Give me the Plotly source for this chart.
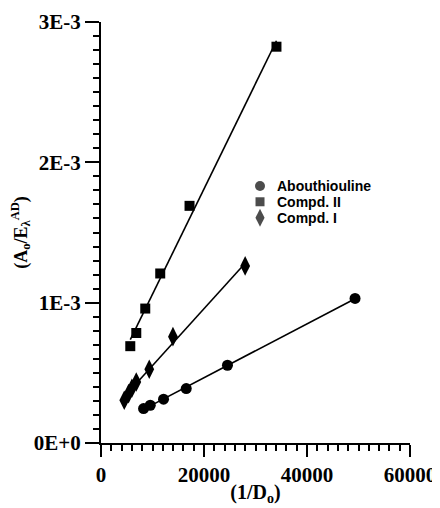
import numpy as np
import plotly.graph_objects as go

# Data
abou_x = [8265, 9565, 12145, 16550, 24560, 49330]
abou_y = [0.245e-3, 0.269e-3, 0.312e-3, 0.388e-3, 0.554e-3, 1.03e-3]

c2_x = [5685, 6850, 8595, 11500, 17190, 34070]
c2_y = [0.69e-3, 0.784e-3, 0.958e-3, 1.208e-3, 1.69e-3, 2.824e-3]

c1_x = [4520, 5355, 6000, 6850, 9370, 13970, 27990]
c1_y = [0.305e-3, 0.352e-3, 0.39e-3, 0.435e-3, 0.526e-3, 0.758e-3, 1.262e-3]

names = ["Abouthiouline", "Compd. II", "Compd. I"]
symbols = ["circle", "square", "diamond-tall"]
sizes = [11, 10, 14]
legend_sizes = [10, 9, 13]
series_x = [abou_x, c2_x, c1_x]
series_y = [abou_y, c2_y, c1_y]

x_ticks = [0, 20000, 40000, 60000]
x_ticktext = ["0", "20000", "40000", "60000"]
y_ticks = [0, 1e-3, 2e-3, 3e-3]
y_ticktext = ["0E+0", "1E-3", "2E-3", "3E-3"]

# legend layout (paper fractions of the plot area)
leg_marker_x = 0.5146
leg_text_x = 0.563
leg_rows_y = [0.6105, 0.573, 0.535]

fig = go.Figure()
for xs, ys in zip(series_x, series_y):
    xa = np.array(xs, dtype=float)
    ya = np.array(ys, dtype=float)
    m, b = np.polyfit(xa, ya, 1)
    lx = np.array([xa.min(), xa.max()])
    fig.add_trace(go.Scatter(x=lx, y=m * lx + b, mode="lines",
                             line=dict(color="black", width=1.6),
                             showlegend=False, hoverinfo="skip"))
for name, xs, ys, sym, size in zip(names, series_x, series_y, symbols, sizes):
    fig.add_trace(go.Scatter(x=xs, y=ys, mode="markers", name=name, showlegend=False,
                             marker=dict(symbol=sym, size=size, color="black",
                                         line=dict(width=0))))

# manual legend keys on a hidden overlay axis
fig.add_trace(go.Scatter(x=[leg_marker_x] * 3, y=leg_rows_y, mode="markers",
                         xaxis="x2", yaxis="y2", showlegend=False, hoverinfo="skip",
                         marker=dict(symbol=symbols, size=legend_sizes, color="black",
                                     line=dict(width=0))))
for name, yy in zip(names, leg_rows_y):
    fig.add_annotation(x=leg_text_x, y=yy, xref="paper", yref="paper",
                       text=name, showarrow=False, xanchor="left", yanchor="middle",
                       font=dict(family="Liberation Sans", size=14, color="black",
                                 weight="bold"))

tickfont = dict(family="Liberation Serif", size=21, color="black", weight="bold")

fig.update_layout(
    width=432, height=498,
    margin=dict(l=93, r=30, t=14, b=63),
    paper_bgcolor="white", plot_bgcolor="white",
    font=dict(family="Liberation Serif", color="black"),
    showlegend=False,
    xaxis=dict(range=[0, 60000], showgrid=False, zeroline=False, automargin=False,
               showline=True, linecolor="black", linewidth=2,
               ticks="outside", ticklen=12, tickwidth=2, tickcolor="black",
               tickvals=x_ticks, ticktext=x_ticktext, tickfont=tickfont,
               minor=dict(dtick=2000, ticks="outside", ticklen=6, tickwidth=1.5,
                          tickcolor="black", showgrid=False),
               title=dict(text="(1/D<sub>o</sub>)", standoff=5,
                          font=dict(family="Liberation Serif", size=20,
                                    color="black", weight="bold"))),
    yaxis=dict(range=[0, 3e-3], showgrid=False, zeroline=False, automargin=False,
               showline=True, linecolor="black", linewidth=2,
               ticks="outside", ticklen=14, tickwidth=2, tickcolor="black",
               tickvals=y_ticks, ticktext=y_ticktext, tickfont=tickfont,
               minor=dict(dtick=1e-4, ticks="outside", ticklen=6, tickwidth=1.5,
                          tickcolor="black", showgrid=False),
               title=dict(text="(A<sub>o</sub>/E<sub>λ</sub><sup>AD</sup>)", standoff=8,
                          font=dict(family="Liberation Serif", size=18,
                                    color="black", weight="bold"))),
    xaxis2=dict(range=[0, 1], overlaying="x", visible=False, domain=[0, 1]),
    yaxis2=dict(range=[0, 1], overlaying="y", visible=False),
)

fig.write_html("out.html")
